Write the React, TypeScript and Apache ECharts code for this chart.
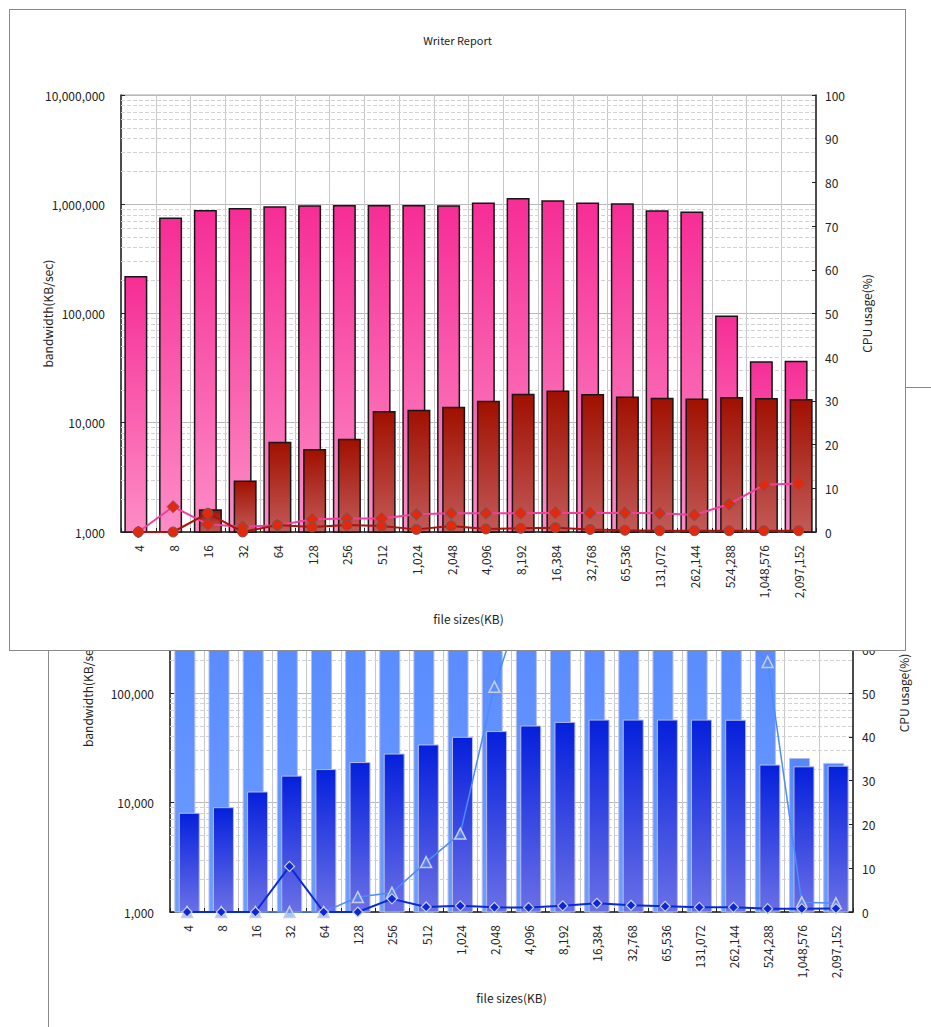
import React, { useEffect, useRef } from "react";
import * as echarts from "echarts";

const categories = ["4", "8", "16", "32", "64", "128", "256", "512", "1,024", "2,048", "4,096", "8,192", "16,384", "32,768", "65,536", "131,072", "262,144", "524,288", "1,048,576", "2,097,152"];

// Writer report (front chart)
const writerBandwidthA = [220000, 755000, 887000, 925000, 959000, 979000, 986000, 986000, 985000, 980000, 1040000, 1140000, 1090000, 1040000, 1020000, 880000, 860000, 96000, 36500, 37000];
const writerBandwidthB = [1000, 1000, 1615, 2960, 6700, 5740, 7130, 12800, 13150, 14000, 15900, 18400, 19700, 18300, 17400, 16950, 16700, 17200, 16850, 16500];
const writerCpuA = [0, 5.8, 1.75, 1.2, 1.5, 2.9, 3.1, 3.1, 4.05, 4.3, 4.3, 4.3, 4.4, 4.35, 4.4, 4.3, 3.9, 6.4, 10.8, 11.1];
const writerCpuB = [0, 0, 4.3, 0, 1.6, 1.15, 1.6, 1.4, 0.6, 1.4, 0.7, 0.85, 1.0, 0.6, 0.4, 0.3, 0.3, 0.3, 0.3, 0.3];

// Chart behind (partly hidden)
const backBandwidthA = [1200000, 1300000, 1300000, 1400000, 1400000, 1400000, 1400000, 1400000, 1400000, 1400000, 1400000, 1400000, 1400000, 1400000, 1400000, 1300000, 1300000, 900000, 25500, 23000];
const backBandwidthB = [8060, 9060, 12600, 17600, 20200, 23400, 28000, 33900, 39800, 44900, 50500, 54500, 57200, 57200, 57200, 57200, 57000, 22200, 21400, 21700];
const backCpuA = [0, 0, 0, 0, 0, 3.4, 4.4, 11.4, 17.9, 51.4, 75, 82, 85, 86, 86, 84, 65, 57.1, 2.2, 2.0];
const backCpuB = [0, 0, 0, 10.4, 0, 0, 3.0, 1.15, 1.4, 1.07, 1.0, 1.4, 2.0, 1.53, 1.3, 1.07, 1.07, 0.77, 0.77, 0.8];

// log axis minor grid lines
const logDecades = [1000, 10000, 100000, 1000000];
const logMinorSteps = [2, 3, 4, 5, 6, 7, 8, 9];
const minorLines = logDecades.flatMap((d) => logMinorSteps.map((s) => d * s));

const FONT = "'Noto Sans CJK JP', 'Noto Sans', sans-serif";
const fmt = (v: number) => Number(v).toLocaleString("en-US");

type Cfg = {
  title?: string;
  grid: any;
  leftGap: number;
  rightGap: number;
  xGap: number;
  barWidth: number;
  barGap: string;
  barA: number[];
  barB: number[];
  colorA: [string, string];
  colorB: [string, string];
  barBorder: string;
  barBorderWidth: number;
  lineA: any;
  lineB: any;
};

function buildOption(c: Cfg) {
  const textStyle = { fontFamily: FONT, color: "#222", fontSize: 12 };
  return {
    animation: false,
    backgroundColor: "#ffffff",
    textStyle: { fontFamily: FONT },
    title: c.title
      ? { text: c.title, left: "center", top: 19, textStyle: { fontSize: 11, fontWeight: "normal", color: "#222", fontFamily: FONT } }
      : undefined,
    grid: { ...c.grid, show: true, borderColor: "#a0a0a0", borderWidth: 1, containLabel: false },
    xAxis: {
      type: "category",
      data: categories,
      boundaryGap: true,
      name: "file sizes(KB)",
      nameLocation: "middle",
      nameGap: c.xGap,
      nameMoveOverlap: false,
      nameTextStyle: textStyle,
      axisLine: { lineStyle: { color: "#222", width: 1.5 } },
      axisTick: { show: true, inside: true, length: 4, lineStyle: { color: "#222" } },
      axisLabel: { interval: 0, rotate: 90, margin: 13, ...textStyle },
      splitLine: { show: true, interval: 0, lineStyle: { color: "#c8c8c8", width: 1 } },
    },
    yAxis: [
      {
        type: "log",
        logBase: 10,
        min: 1000,
        max: 10000000,
        name: "bandwidth(KB/sec)",
        nameLocation: "middle",
        nameGap: c.leftGap,
        nameMoveOverlap: false,
        nameTextStyle: textStyle,
        axisLine: { show: true, lineStyle: { color: "#222", width: 1.5 } },
        axisTick: { show: true, inside: true, length: 4, lineStyle: { color: "#222" } },
        axisLabel: { formatter: fmt, margin: 16, ...textStyle },
        splitLine: { show: true, lineStyle: { color: "#b8b8b8", width: 1 } },
      },
      {
        type: "value",
        min: 0,
        max: 100,
        interval: 10,
        position: "right",
        name: "CPU usage(%)",
        nameLocation: "middle",
        nameGap: c.rightGap,
        nameMoveOverlap: false,
        nameTextStyle: textStyle,
        axisLine: { show: true, lineStyle: { color: "#222", width: 1.5 } },
        axisTick: { show: true, inside: true, length: 4, lineStyle: { color: "#222" } },
        axisLabel: { margin: 9, ...textStyle },
        splitLine: { show: false },
      },
    ],
    series: [
      {
        type: "bar",
        yAxisIndex: 0,
        data: c.barA,
        barWidth: c.barWidth,
        barGap: c.barGap,
        z: 2,
        itemStyle: {
          color: new echarts.graphic.LinearGradient(0, 0, 0, 1, [
            { offset: 0, color: c.colorA[0] },
            { offset: 1, color: c.colorA[1] },
          ]),
          borderColor: c.barBorder,
          borderWidth: c.barBorderWidth,
        },
        markLine: {
          silent: true,
          z: 1,
          symbol: ["none", "none"],
          label: { show: false },
          lineStyle: { type: "dashed", color: "#d2d2d2", width: 1 },
          emphasis: { disabled: true },
          data: minorLines.map((v) => ({ yAxis: v })),
        },
      },
      {
        type: "bar",
        yAxisIndex: 0,
        data: c.barB,
        barWidth: c.barWidth,
        barGap: c.barGap,
        z: 3,
        itemStyle: {
          color: new echarts.graphic.LinearGradient(0, 0, 0, 1, [
            { offset: 0, color: c.colorB[0] },
            { offset: 1, color: c.colorB[1] },
          ]),
          borderColor: c.barBorder,
          borderWidth: c.barBorderWidth,
        },
      },
      { type: "line", yAxisIndex: 1, z: 5, ...c.lineA },
      { type: "line", yAxisIndex: 1, z: 6, ...c.lineB },
    ],
  };
}

function useChart(ref: React.RefObject<HTMLDivElement | null>, option: any) {
  useEffect(() => {
    if (!ref.current) return;
    const chart = echarts.init(ref.current, undefined, { renderer: "svg" });
    chart.setOption(option);
    return () => chart.dispose();
  }, []);
}

export default function App() {
  const backRef = useRef<HTMLDivElement>(null);
  const frontRef = useRef<HTMLDivElement>(null);

  const backOption = buildOption({
    grid: { left: 121, right: 78, top: 86, bottom: 115 },
    leftGap: 77,
    rightGap: 44,
    xGap: 79,
    barWidth: 21,
    barGap: "-79%",
    barA: backBandwidthA,
    barB: backBandwidthB,
    colorA: ["#5487ff", "#6e9dff"],
    colorB: ["#0520dc", "#6a70e6"],
    barBorder: "#b4bde8",
    barBorderWidth: 1,
    lineA: {
      data: backCpuA,
      symbol: "triangle",
      symbolSize: 11,
      lineStyle: { color: "#4b8bff", width: 1.5 },
      itemStyle: { color: "rgba(90,145,255,0.55)", borderColor: "#c9cde0", borderWidth: 1.5 },
    },
    lineB: {
      data: backCpuB,
      symbol: "diamond",
      symbolSize: 10,
      lineStyle: { color: "#0a2ad8", width: 2 },
      itemStyle: { color: "#0a28d8", borderColor: "#c9cde0", borderWidth: 1.2 },
    },
  });

  const frontOption = buildOption({
    title: "Writer Report",
    grid: { left: 111, right: 89, top: 85, bottom: 118 },
    leftGap: 68,
    rightGap: 44,
    xGap: 80,
    barWidth: 23,
    barGap: "-78%",
    barA: writerBandwidthA,
    barB: writerBandwidthB,
    colorA: ["#f62d96", "#fd8dc6"],
    colorB: ["#a01000", "#c25a58"],
    barBorder: "#161616",
    barBorderWidth: 1.5,
    lineA: {
      data: writerCpuA,
      symbol: "diamond",
      symbolSize: 12,
      lineStyle: { color: "#f23f9c", width: 2 },
      itemStyle: { color: "#e4280c", borderColor: "#6a5a5a", borderWidth: 1 },
    },
    lineB: {
      data: writerCpuB,
      symbol: "circle",
      symbolSize: 10,
      lineStyle: { color: "#a8140c", width: 2 },
      itemStyle: { color: "#e4280c", borderColor: "#6a5a5a", borderWidth: 1 },
    },
  });

  useChart(backRef, backOption);
  useChart(frontRef, frontOption);

  return (
    <div>
      <div
        style={{
          position: "absolute",
          left: 48,
          top: 387,
          width: 883,
          height: 640,
          boxSizing: "border-box",
          borderLeft: "1px solid #8a8a8a",
          borderTop: "1px solid #8a8a8a",
          background: "#fff",
          overflow: "hidden",
        }}
      >
        <div ref={backRef} style={{ width: 882, height: 639 }} />
      </div>
      <div
        style={{
          position: "absolute",
          left: 9,
          top: 9,
          width: 897,
          height: 642,
          boxSizing: "border-box",
          border: "1px solid #8a8a8a",
          background: "#fff",
          overflow: "hidden",
        }}
      >
        <div ref={frontRef} style={{ width: 895, height: 640 }} />
      </div>
    </div>
  );
}
